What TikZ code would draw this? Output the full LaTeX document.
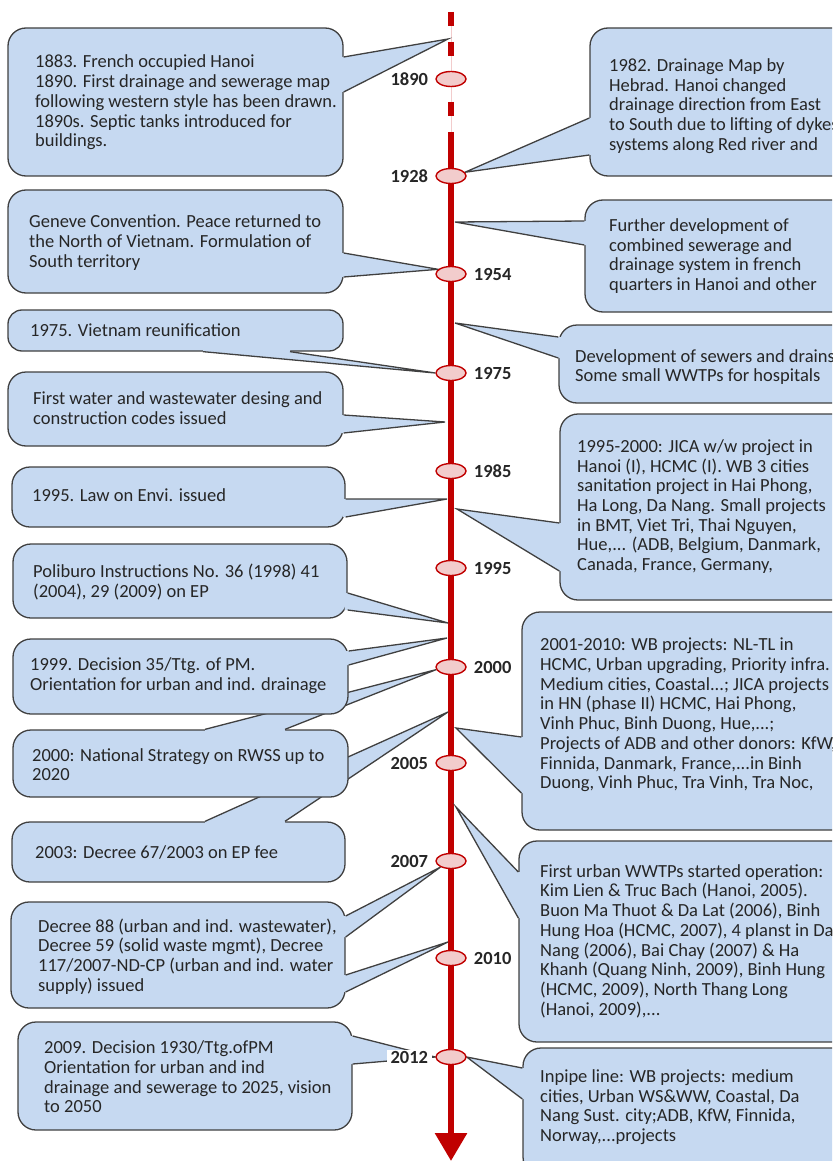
\documentclass[tikz,border=0pt]{standalone}
\usepackage{fontspec}
\setmainfont{Carlito}
\usetikzlibrary{calc}
\usetikzlibrary{shapes}
\usetikzlibrary{arrows.meta}
\pgfdeclarelayer{front}
\pgfsetlayers{main,front}
\definecolor{boxblue}{RGB}{198,217,241}
\definecolor{boxedge}{RGB}{64,64,64}
\definecolor{txtgray}{RGB}{38,38,38}
\definecolor{linered}{RGB}{192,0,0}
\definecolor{dotpink}{RGB}{242,204,204}
\tikzset{
    callbox/.style = {rectangle, rounded corners=18pt, draw=boxedge, line width=1.3pt, fill=boxblue, inner sep=0pt},
    calltxt/.style = {anchor=west, align=left, inner sep=0pt, text=txtgray, font=\fontsize{18.5}{19.7}\selectfont},
    yeardot/.style = {ellipse, draw=linered, line width=1.4pt, fill=dotpink, minimum width=30pt, minimum height=15pt, inner sep=0pt},
    yearlbl/.style = {text=txtgray, fill=white, font=\fontsize{18.5}{20}\selectfont\bfseries, inner xsep=4pt, inner ysep=1pt, label distance=3pt},
    axis/.style = {linered, line width=6pt},
    tailline/.style = {draw=boxedge, line width=1.3pt, line join=miter},
    tailfill/.style = {fill=boxblue},
}
% pointer of a callout: inward shift, base point, base point, tip
\newcommand{\calltail}[4]{%
  \fill[tailfill] ($#2+#1$) -- #2 -- #4 -- #3 -- ($#3+#1$) -- cycle;
  \draw[tailline] #2 -- #4 -- #3;
}

\begin{document}
\begin{tikzpicture}[x=1pt, y=-1pt]
\path[use as bounding box] (0,0) rectangle (832,1161);
\clip (0,0) rectangle (832,1161);
% time axis
\coordinate (axtop) at (451,12);
\coordinate (axsolid) at (451,138);
\coordinate (axend) at (451,1161);
\draw[line width=1pt, dotpink] (axtop) -- (axsolid);
\draw[axis, dash pattern=on 14pt off 16pt] (axtop) -- (axsolid);
\draw[axis, -{Triangle[width=31pt,length=28pt]}] (axsolid) -- (axend);
% year marks, kept in front of the callouts
\begin{pgfonlayer}{front}
\node[yeardot, label={[yearlbl]left:1890}] (e1890) at (451,79) {};
\node[yeardot, label={[yearlbl]left:1928}] (e1928) at (451,176) {};
\node[yeardot, label={[yearlbl]right:1954}] (e1954) at (451,274) {};
\node[yeardot, label={[yearlbl]right:1975}] (e1975) at (451,373) {};
\node[yeardot, label={[yearlbl]right:1985}] (e1985) at (451,471) {};
\node[yeardot, label={[yearlbl]right:1995}] (e1995) at (451,568) {};
\node[yeardot, label={[yearlbl]right:2000}] (e2000) at (451,667) {};
\node[yeardot, label={[yearlbl]left:2005}] (e2005) at (451,763) {};
\node[yeardot, label={[yearlbl]left:2007}] (e2007) at (451,861) {};
\node[yeardot, label={[yearlbl]right:2010}] (e2010) at (451,958) {};
\node[yeardot, label={[yearlbl]left:2012}] (e2012) at (451,1057) {};
\end{pgfonlayer}
% pointer tips on the axis
\coordinate (pt1883) at (448,39);
\coordinate (ptdev) at (455,222);
\coordinate (ptsew) at (455,323);
\coordinate (ptcode) at (445,422);
\coordinate (ptlaw) at (447,499);
\coordinate (ptjica) at (457,509);
\coordinate (ptpol) at (448,623);
\coordinate (pt1999) at (447,638);
\coordinate (pt2003) at (448,712);
\coordinate (ptwb) at (456,728);
\coordinate (ptwwtp) at (456,807);
\coordinate (ptdec) at (448,942);

% right column
\node[callbox, minimum width=260pt, minimum height=148pt] (bx1982) at (720,102) {};
\calltail{(3,0)}{(bx1982.west |- 0,118)}{(bx1982.west |- 0,155)}{(e1928.15)}
\node[calltxt] (tx1982) at (609,106) {1982. Drainage Map by\\Hebrad. Hanoi changed\\drainage direction from East\\to South due to lifting of dykes\\systems along Red river and};

\node[callbox, minimum width=265pt, minimum height=112pt] (bxdev) at (717.5,256) {};
\calltail{(3,0)}{(bxdev.west |- 0,221)}{(bxdev.west |- 0,245)}{(ptdev)}
\node[calltxt] (txdev) at (609,256) {Further development of\\combined sewerage and\\drainage system in french\\quarters in Hanoi and other};

\node[callbox, minimum width=291pt, minimum height=78pt] (bxsew) at (704.5,364) {};
\calltail{(3,0)}{(bxsew.west |- 0,337)}{(bxsew.west |- 0,358)}{(ptsew)}
\node[calltxt] (txsew) at (575,367) {Development of sewers and drains\\Some small WWTPs for hospitals};

\node[callbox, minimum width=290pt, minimum height=186pt] (bxjica) at (705,507) {};
\calltail{(3,0)}{(bxjica.west |- 0,523)}{(bxjica.west |- 0,571)}{(ptjica)}
\node[calltxt] (txjica) at (577,506.5) {1995-2000: JICA w/w project in\\Hanoi (I), HCMC (I). WB 3 cities\\sanitation project in Hai Phong,\\Ha Long, Da Nang. Small projects\\in BMT, Viet Tri, Thai Nguyen,\\Hue,... (ADB, Belgium, Danmark,\\Canada, France, Germany,};

\node[callbox, minimum width=328pt, minimum height=218pt] (bxwb) at (686,721) {};
\calltail{(3,0)}{(bxwb.west |- 0,737)}{(bxwb.west |- 0,793)}{(ptwb)}
\node[calltxt] (txwb) at (540,715) {2001-2010: WB projects: NL-TL in\\HCMC, Urban upgrading, Priority infra.\\Medium cities, Coastal...; JICA projects\\in HN (phase II) HCMC, Hai Phong,\\Vinh Phuc, Binh Duong, Hue,...;\\Projects of ADB and other donors: KfW,\\Finnida, Danmark, France,...in Binh\\Duong, Vinh Phuc, Tra Vinh, Tra Noc,};

\node[callbox, minimum width=331pt, minimum height=201pt] (bxwwtp) at (684.5,941.5) {};
\calltail{(3,0)}{(bxwwtp.west |- 0,872)}{(bxwwtp.west |- 0,918)}{(ptwwtp)}
\node[calltxt] (txwwtp) at (540,941) {First urban WWTPs started operation:\\Kim Lien \& Truc Bach (Hanoi, 2005).\\Buon Ma Thuot \& Da Lat (2006), Binh\\Hung Hoa (HCMC, 2007), 4 planst in Da\\Nang (2006), Bai Chay (2007) \& Ha\\Khanh (Quang Ninh, 2009), Binh Hung\\(HCMC, 2009), North Thang Long\\(Hanoi, 2009),...};

\node[callbox, minimum width=327pt, minimum height=127pt] (bxpipe) at (686.5,1111.5) {};
\calltail{(3,0)}{(bxpipe.west |- 0,1068)}{(bxpipe.west |- 0,1099)}{(e2012.east)}
\node[calltxt] (txpipe) at (540,1107) {Inpipe line: WB projects: medium\\cities, Urban WS\&WW, Coastal, Da\\Nang Sust. city;ADB, KfW, Finnida,\\Norway,...projects};

% left column, from the bottom up
\node[callbox, minimum width=334pt, minimum height=108pt] (bx2009) at (185,1076) {};
\calltail{(-3,0)}{(bx2009.east |- 0,1036)}{(bx2009.east |- 0,1064)}{(e2012.west)}
\node[calltxt] (tx2009) at (44,1077) {2009. Decision 1930/Ttg.ofPM\\Orientation for urban and ind\\drainage and sewerage to 2025, vision\\to 2050};

\node[callbox, minimum width=334pt, minimum height=106pt] (bxdec) at (178,955) {};
\calltail{(-3,0)}{(bxdec.east |- 0,916)}{(bxdec.east |- 0,937)}{(e2007.210)}
\calltail{(-3,0)}{(bxdec.east |- 0,975)}{(bxdec.east |- 0,992)}{(ptdec)}
\node[calltxt] (txdec) at (38,956.5) {Decree 88 (urban and ind. wastewater),\\Decree 59 (solid waste mgmt), Decree\\117/2007-ND-CP (urban and ind. water\\supply) issued};

\node[callbox, minimum width=333pt, minimum height=60pt] (bx2003) at (178.5,852) {};
\calltail{(0,3)}{(bx2003.north -| 205,0)}{(bx2003.north -| 285,0)}{(pt2003)}
\node[calltxt] (tx2003) at (35,852) {2003: Decree 67/2003 on EP fee};

\node[callbox, minimum width=335pt, minimum height=67pt] (bxrwss) at (180.5,763.5) {};
\calltail{(0,3)}{(bxrwss.north -| 205,0)}{(bxrwss.north -| 285,0)}{(e2000.190)}
\node[calltxt] (txrwss) at (32,764.5) {2000: National Strategy on RWSS up to\\2020};

\node[callbox, minimum width=335pt, minimum height=75pt] (bx1999) at (180.5,676.5) {};
\calltail{(-3,0)}{(bx1999.east |- 0,651)}{(bx1999.east |- 0,665)}{(pt1999)}
\node[calltxt] (tx1999) at (30,676) {1999. Decision 35/Ttg. of PM.\\Orientation for urban and ind. drainage};

\node[callbox, minimum width=334pt, minimum height=74pt] (bxpol) at (180,581) {};
\calltail{(-3,0)}{(bxpol.east |- 0,593)}{(bxpol.east |- 0,610)}{(ptpol)}
\node[calltxt] (txpol) at (33,582) {Poliburo Instructions No. 36 (1998) 41\\(2004), 29 (2009) on EP};

\node[callbox, minimum width=333pt, minimum height=60pt] (bxlaw) at (178.5,497) {};
\calltail{(-3,0)}{(bxlaw.east |- 0,499)}{(bxlaw.east |- 0,517)}{(ptlaw)}
\node[calltxt] (txlaw) at (32,495) {1995. Law on Envi. issued};

\node[callbox, minimum width=335pt, minimum height=74pt] (bxcode) at (175.5,409) {};
\calltail{(-3,0)}{(bxcode.east |- 0,415)}{(bxcode.east |- 0,433)}{(ptcode)}
\node[calltxt] (txcode) at (33,408) {First water and wastewater desing and\\construction codes issued};

\node[callbox, rounded corners=14pt, minimum width=335pt, minimum height=41pt] (bx1975) at (175.5,330.5) {};
\calltail{(0,-3)}{(bx1975.south -| 203,0)}{(bx1975.south -| 290,0)}{(e1975.west)}
\node[calltxt] (tx1975) at (30,330) {1975. Vietnam reunification};

\node[callbox, minimum width=335pt, minimum height=103pt] (bxgen) at (175.5,241.5) {};
\calltail{(-3,0)}{(bxgen.east |- 0,253)}{(bxgen.east |- 0,277)}{(e1954.160)}
\node[calltxt] (txgen) at (29,242.5) {Geneve Convention. Peace returned to\\the North of Vietnam. Formulation of\\South territory};

\node[callbox, minimum width=335pt, minimum height=148pt] (bx1883) at (175.5,102) {};
\calltail{(-3,0)}{(bx1883.east |- 0,57)}{(bx1883.east |- 0,92)}{(pt1883)}
\node[calltxt] (tx1883) at (35,102.5) {1883. French occupied Hanoi\\1890. First drainage and sewerage map\\following western style has been drawn.\\1890s. Septic tanks introduced for\\buildings.};
\end{tikzpicture}
\end{document}
